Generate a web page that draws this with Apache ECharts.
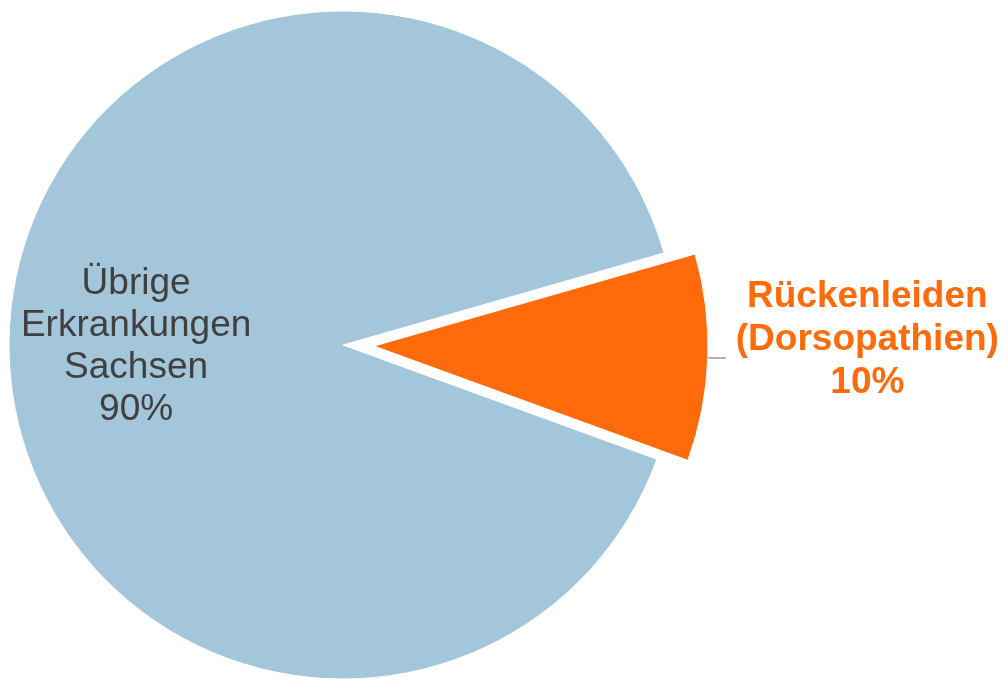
<!DOCTYPE html>
<html>
<head>
<meta charset="utf-8">
<script src="https://cdn.jsdelivr.net/npm/echarts@6/dist/echarts.min.js"></script>
<style>
  html, body { margin: 0; padding: 0; background: #ffffff; }
  #chart { width: 1006px; height: 679px; }
</style>
</head>
<body>
<div id="chart"></div>
<script>
// Share of sick-leave cases: back disorders vs. all other diagnoses (Saxony)
const categories = ['Rückenleiden\n(Dorsopathien)', 'Übrige\nErkrankungen\nSachsen'];
const shares = [10, 90];
const sliceColors = ['#FF6A0B', '#A3C6DA'];
const labelColors = ['#FF6A0B', '#404040'];

const chart = echarts.init(document.getElementById('chart'), null, { renderer: 'canvas' });

function richLines(name, percent, style) {
  return name.split('\n').concat([percent + '%'])
    .map(function (line) { return '{' + style + '|' + line + '}'; })
    .join('\n');
}

const data = categories.map(function (name, i) {
  const item = {
    name: name,
    value: shares[i],
    itemStyle: { color: sliceColors[i] }
  };
  if (i === 0) {
    item.selected = true;
    item.label = {
      position: 'outside',
      distanceToLabelLine: 10,
      padding: [0, 0, 36, 0],
      formatter: function (p) { return richLines(p.name, p.percent, 'hi'); },
      rich: {
        hi: {
          align: 'center',
          color: labelColors[0],
          fontFamily: '"Liberation Sans", Arial, sans-serif',
          fontWeight: 'bold',
          fontSize: 37,
          lineHeight: 43
        }
      }
    };
    item.labelLine = {
      show: true,
      length: 6,
      length2: 12,
      lineStyle: { color: '#9a9a9a', width: 1.5 }
    };
  } else {
    item.label = {
      position: 'inner',
      formatter: function (p) { return richLines(p.name, p.percent, 'lo'); },
      rich: {
        lo: {
          align: 'center',
          color: labelColors[1],
          fontFamily: '"Liberation Sans", Arial, sans-serif',
          fontSize: 37,
          lineHeight: 42
        }
      }
    };
    item.labelLine = { show: false };
  }
  return item;
});

chart.setOption({
  backgroundColor: '#ffffff',
  animation: false,
  series: [{
    type: 'pie',
    center: [343, 345],
    radius: 334,
    startAngle: 16,
    clockwise: true,
    selectedMode: 'single',
    selectedOffset: 31,
    avoidLabelOverlap: false,
    itemStyle: { borderColor: '#ffffff', borderWidth: 1 },
    emphasis: { disabled: true },
    labelLayout: function (params) {
      if (params.dataIndex === 1) {
        return { dx: -37, dy: 8 };
      }
      return {};
    },
    data: data
  }]
});
</script>
</body>
</html>
